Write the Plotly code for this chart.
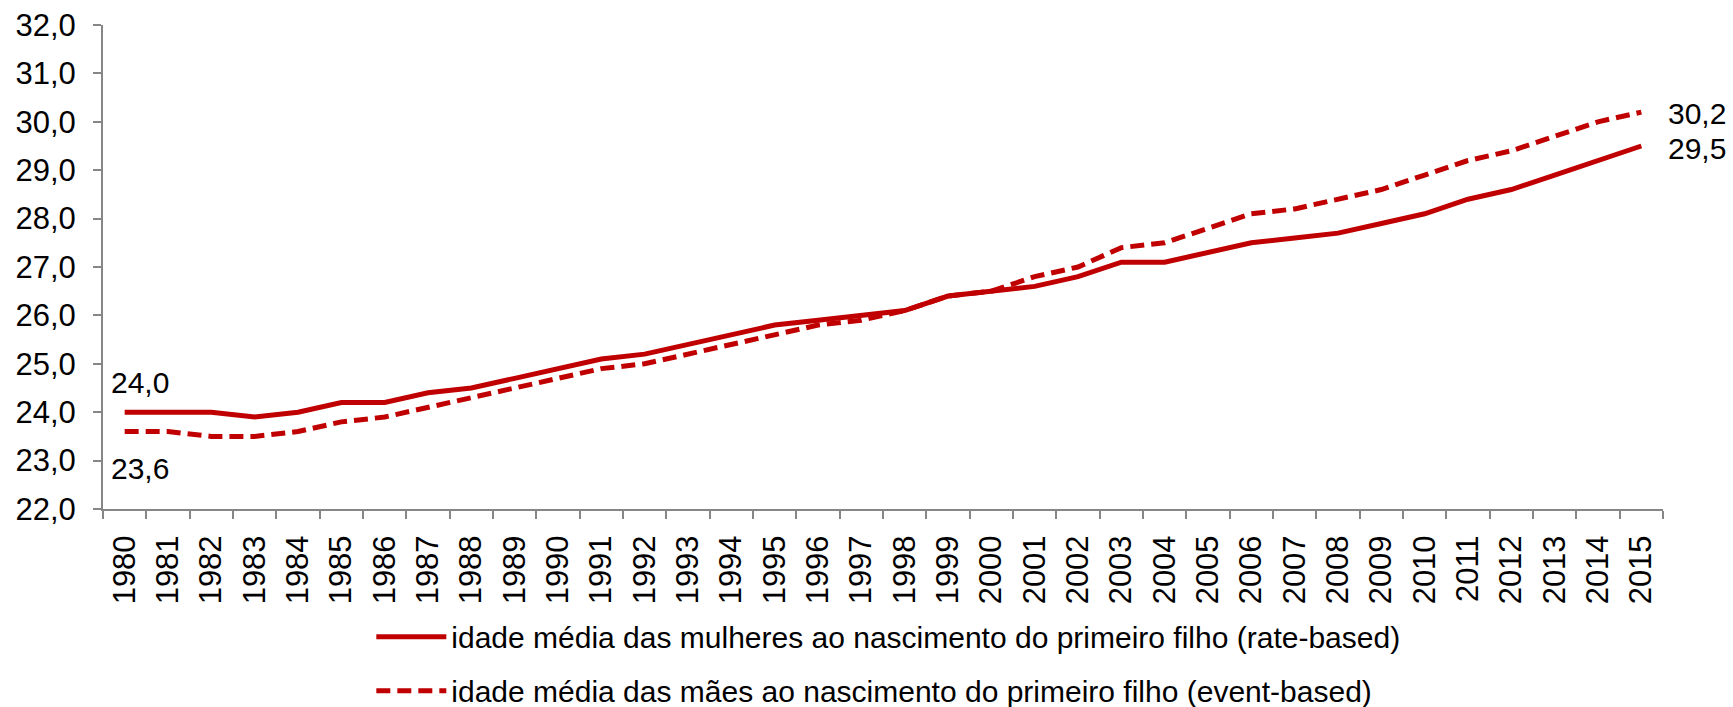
import plotly.graph_objects as go

years = [str(y) for y in range(1980, 2016)]
rate_based = [24.0, 24.0, 24.0, 23.9, 24.0, 24.2, 24.2, 24.4, 24.5, 24.7,
              24.9, 25.1, 25.2, 25.4, 25.6, 25.8, 25.9, 26.0, 26.1, 26.4,
              26.5, 26.6, 26.8, 27.1, 27.1, 27.3, 27.5, 27.6, 27.7, 27.9,
              28.1, 28.4, 28.6, 28.9, 29.2, 29.5]
event_based = [23.6, 23.6, 23.5, 23.5, 23.6, 23.8, 23.9, 24.1, 24.3, 24.5,
               24.7, 24.9, 25.0, 25.2, 25.4, 25.6, 25.8, 25.9, 26.1, 26.4,
               26.5, 26.8, 27.0, 27.4, 27.5, 27.8, 28.1, 28.2, 28.4, 28.6,
               28.9, 29.2, 29.4, 29.7, 30.0, 30.2]
name_rate = "idade média das mulheres ao nascimento do primeiro filho (rate-based)"
name_event = "idade média das mães ao nascimento do primeiro filho (event-based)"

RED = "#C00000"
AXIS = "#868686"
FONT = "Liberation Sans, Arial, sans-serif"
TICK_SIZE = 31
LEG_SIZE = 30

fig = go.Figure()
fig.add_trace(go.Scatter(x=years, y=rate_based, mode="lines", name=name_rate,
                         legendgroup="a",
                         line=dict(color=RED, width=5)))
fig.add_trace(go.Scatter(x=years, y=event_based, mode="lines", name=name_event,
                         legendgroup="b",
                         line=dict(color=RED, width=5, dash="14px,7px")))

def fmt(v):
    return f"{v:.1f}".replace(".", ",")

first, last = 0, len(years) - 1  # category indices
ann = [
    (first, rate_based[first], -16, 30),
    (first, event_based[first], -16, -37),
    (last, event_based[last], 25, -1),
    (last, rate_based[last], 25, -2),
]
for x, y, xs, ys in ann:
    fig.add_annotation(x=x, y=y, xref="x", yref="y", text=fmt(y), showarrow=False,
                       xanchor="left", yanchor="middle", xshift=xs, yshift=ys,
                       font=dict(size=30, color="black", family=FONT))

fig.update_layout(
    width=1733, height=707,
    margin=dict(l=103, r=70, t=25, b=198, autoexpand=False),
    paper_bgcolor="white", plot_bgcolor="white",
    separators=", ",
    font=dict(family=FONT, size=TICK_SIZE, color="black"),
    showlegend=True,
    legend=dict(x=0.172, xanchor="left", y=-0.210, yanchor="top",
                orientation="v", tracegroupgap=12, itemwidth=70,
                font=dict(size=LEG_SIZE, family=FONT, color="black"),
                bgcolor="rgba(0,0,0,0)"),
)
fig.update_xaxes(type="category", range=[-0.5, 35.5], showline=True,
                 linecolor=AXIS, linewidth=2, ticks="outside", ticklen=8,
                 tickcolor=AXIS, tickwidth=2, tickson="boundaries",
                 tickangle=-90, showgrid=False, zeroline=False,
                 ticklabelstandoff=12,
                 tickfont=dict(size=TICK_SIZE, family=FONT, color="black"))
fig.update_yaxes(range=[22, 32], dtick=1, tickformat=".1f", showline=True,
                 linecolor=AXIS, linewidth=2, ticks="outside", ticklen=8,
                 tickcolor=AXIS, tickwidth=2, showgrid=False, zeroline=False,
                 ticklabelstandoff=11,
                 tickfont=dict(size=TICK_SIZE, family=FONT, color="black"))

fig.write_html("out.html", config={"displayModeBar": False},
               post_script="document.body.style.margin='0';document.body.style.overflow='hidden';")
